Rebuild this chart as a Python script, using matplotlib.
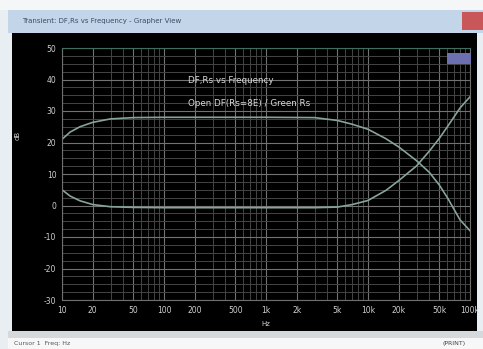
import matplotlib
matplotlib.use("Agg")
import matplotlib.pyplot as plt
from matplotlib.patches import Rectangle
from matplotlib.ticker import FixedLocator, LogLocator, NullFormatter, MultipleLocator

# Damping factor (open, Rs = 8 ohm) and source resistance, in dB, vs frequency
freq_df = [10, 12, 15, 20, 30, 50, 100, 1000, 3000, 5000, 7000, 10000,
           15000, 20000, 30000, 40000, 50000, 60000, 80000, 100000]
df_db = [21.0, 23.3, 25.0, 26.4, 27.5, 27.9, 28.0, 28.0, 27.9, 27.0, 25.8, 24.2,
         21.2, 18.6, 14.2, 10.5, 6.5, 2.5, -4.6, -8.0]

freq_rs = [10, 12, 15, 20, 30, 50, 100, 1000, 3000, 5000, 7000, 10000,
           15000, 20000, 30000, 40000, 50000, 60000, 80000, 100000]
rs_db = [5.0, 3.0, 1.5, 0.3, -0.4, -0.6, -0.7, -0.7, -0.7, -0.5, 0.3, 1.6,
         4.8, 7.9, 12.6, 17.3, 21.3, 25.0, 31.0, 34.5]

x_ticks = [10, 20, 50, 100, 200, 500, 1000, 2000, 5000, 10000, 20000, 50000, 100000]
x_tick_labels = ["10", "20", "50", "100", "200", "500", "1k", "2k", "5k",
                 "10k", "20k", "50k", "100k"]
y_ticks = [50, 40, 30, 20, 10, 0, -10, -20, -30]
y_tick_labels = ["50", "40", "30", "20", "10", "0", "-10", "-20", "-30"]

W, H = 483, 349
fig = plt.figure(figsize=(W / 100, H / 100), dpi=100)
fig.patch.set_facecolor("#e9eef3")

def px_rect(x0, y0, x1, y1, color, z=-5):
    fig.patches.append(Rectangle((x0 / W, 1 - y1 / H), (x1 - x0) / W, (y1 - y0) / H,
                                 transform=fig.transFigure, facecolor=color,
                                 edgecolor="none", zorder=z))

# window chrome
px_rect(0, 0, W, 10, "#f4f6f8")
px_rect(8, 10, W, 33, "#c3d6e9")
px_rect(462, 12, W, 30, "#c9575a")
px_rect(12, 33, 477, 331, "#000000")
px_rect(8, 331, W, 338, "#d6d9dc")
px_rect(8, 338, W, H, "#f7f7f7")
fig.text(22 / W, 1 - 21 / H, "Transient: DF,Rs vs Frequency - Grapher View",
         fontsize=5, color="#3a4a66", va="center", ha="left")
fig.text(14 / W, 1 - 344 / H, "Cursor 1  Freq: Hz", fontsize=4.5, color="#555555",
         va="center", ha="left")
fig.text(466 / W, 1 - 344 / H, "(PRINT)", fontsize=4.5, color="#444444",
         va="center", ha="right")

ax = fig.add_axes([62 / W, 1 - 300 / H, (470 - 62) / W, (300 - 48) / H])
ax.set_zorder(1)
ax.set_facecolor("#000000")
ax.set_xscale("log")
ax.set_xlim(10, 100000)
ax.set_ylim(-30, 50)

ax.xaxis.set_major_locator(FixedLocator(x_ticks))
ax.set_xticklabels(x_tick_labels)
ax.xaxis.set_minor_locator(LogLocator(base=10, subs=range(2, 10), numticks=20))
ax.xaxis.set_minor_formatter(NullFormatter())
ax.yaxis.set_major_locator(FixedLocator(y_ticks))
ax.set_yticklabels(y_tick_labels)
ax.yaxis.set_minor_locator(MultipleLocator(2.5))

ax.grid(which="major", color="#727272", linewidth=0.8)
ax.grid(which="minor", color="#454545", linewidth=0.7)
ax.set_axisbelow(True)

ax.tick_params(which="both", length=0, colors="#d0d0d0", labelsize=5.5, pad=4)
for s in ax.spines.values():
    s.set_color("#6e6e6e")
    s.set_linewidth(0.8)
ax.spines["top"].set_color("#3f6e60")

ax.plot(freq_df, df_db, color="#86a498", linewidth=1.2)
ax.plot(freq_rs, rs_db, color="#86a498", linewidth=1.2)

ax.set_xlabel("Hz", fontsize=5, color="#cfcfcf", labelpad=5)
fig.text(18 / W, 1 - 135 / H, "dB", fontsize=5, color="#cfcfcf", rotation=90,
         va="center", ha="center")

ax.text(0.31, 0.87, "DF,Rs vs Frequency", transform=ax.transAxes,
        fontsize=6.3, color="#d8d8d8", ha="left", va="center")
ax.text(0.31, 0.78, "Open DF(Rs=8E) / Green Rs", transform=ax.transAxes,
        fontsize=6.3, color="#d8d8d8", ha="left", va="center")

# small legend swatch in the upper-right corner
fig.patches.append(Rectangle((447 / W, 1 - 64 / H), 24 / W, 11 / H,
                             transform=fig.transFigure, facecolor="#6c6fb0",
                             edgecolor="none", zorder=5))

fig.savefig("out.png", dpi=100, facecolor=fig.get_facecolor())
